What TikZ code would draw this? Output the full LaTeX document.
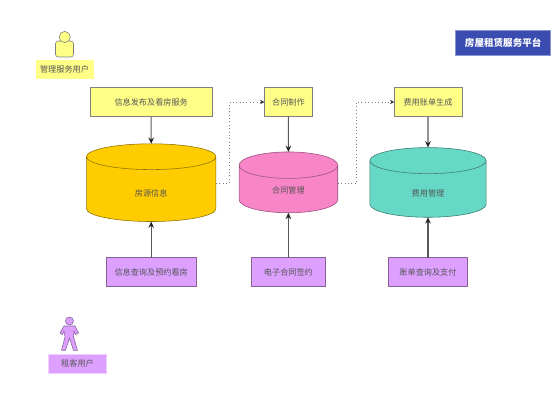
\documentclass[tikz,border=0pt]{standalone}
\usepackage{fontspec}
\setmainfont{Noto Sans CJK SC}
\usepackage{tikz}
\usetikzlibrary{arrows.meta,positioning,shapes.geometric,calc}
\definecolor{rentyellow}{HTML}{FFFF88}
\definecolor{rentpurple}{HTML}{DDA0FF}
\definecolor{rentorange}{HTML}{FFCC00}
\definecolor{rentpink}{HTML}{F985C9}
\definecolor{rentteal}{HTML}{66D9C6}
\definecolor{rentblue}{HTML}{3B4CB0}
\definecolor{rentgray}{HTML}{7F7F7F}
\definecolor{renttext}{HTML}{555555}
\tikzset{
  basefont/.style={font=\fontsize{5.8}{7}\selectfont, text=renttext},
  srvbox/.style={draw=rentgray, fill=rentyellow, basefont, minimum height=0.725cm, inner sep=0pt, outer sep=0pt},
  qrybox/.style={draw=rentpurple!60!black, fill=rentpurple, basefont, minimum height=0.725cm, inner sep=0pt, outer sep=0pt},
  rolebox/.style={basefont, minimum width=1.45cm, minimum height=0.475cm, inner sep=0pt},
  store/.style={cylinder, shape border rotate=90, basefont, inner sep=0pt, outer sep=0pt, cylinder uses custom fill},
  flow/.style={-{Stealth[length=4.5pt,width=4pt,color=black!85]}, draw=black!65, line width=0.75pt},
  link/.style={-{Stealth[length=3pt,width=3pt,color=black!80]}, draw=rentgray, dotted, line width=0.4pt},
}
\begin{document}
\begin{tikzpicture}
  \useasboundingbox (0,0) rectangle (13.925,10.125);

  % Platform title
  \node[draw=rentblue!60, fill=rentblue, font=\fontsize{6.8}{8}\selectfont\bfseries, text=white, minimum width=2.375cm, minimum height=0.6375cm, inner sep=0pt] (title) at (12.58,9.056) {房屋租赁服务平台};

  % Admin user
  \draw[rentgray, fill=rentyellow, line width=0.4pt, rounded corners=2pt] (1.3875,8.7) rectangle (1.8375,9.1);
  \draw[rentgray, fill=rentyellow, line width=0.4pt] (1.6175,9.2) circle (0.14);
  \node[rolebox, fill=rentyellow] (admin) at (1.6125,8.3875) {管理服务用户};

  % Tenant user
  \draw[rentpurple!60!black, fill=rentpurple, line width=0.4pt, line join=round]
    (1.6,1.975) -- (1.5,1.8) -- (1.5625,1.7625) -- (1.6,1.85) -- (1.625,1.7)
    -- (1.5375,1.365) -- (1.6375,1.365) -- (1.7375,1.675) -- (1.8375,1.365) -- (1.9375,1.365)
    -- (1.8375,1.7) -- (1.85,1.85) -- (1.8875,1.7625) -- (1.9625,1.8) -- (1.875,1.975) -- cycle;
  \draw[rentpurple!60!black, fill=rentpurple, line width=0.4pt] (1.7375,2.1) circle (0.1);
  \node[rolebox, fill=rentpurple, draw=rentpurple!50, line width=0.4pt] (tenant) at (1.9375,1.03) {租客用户};

  % Service boxes
  \node[srvbox, minimum width=3.05cm] (publish) at (3.78,7.575) {信息发布及看房服务};
  \node[srvbox, minimum width=1.2cm] (contract) at (7.21,7.575) {合同制作};
  \node[srvbox, minimum width=1.69cm] (billing) at (10.70,7.575) {费用账单生成};

  % Data stores
  \node[store, draw=rentorange!55!black, cylinder body fill=rentorange, cylinder end fill=rentorange, minimum width=3.2375cm, minimum height=1.9425cm, aspect=0.79, text height=0.38cm] (house) at (3.78,5.394) {房源信息};
  \node[store, draw=rentpink!60!black, cylinder body fill=rentpink, cylinder end fill=rentpink, minimum width=2.4675cm, minimum height=1.52cm, aspect=0.81, text height=0.26cm] (manage) at (7.21,5.3975) {合同管理};
  \node[store, draw=rentteal!55!black, cylinder body fill=rentteal, cylinder end fill=rentteal, minimum width=2.905cm, minimum height=1.7425cm, aspect=0.8, text height=0.38cm] (fee) at (10.70,5.398) {费用管理};

  % Tenant query boxes
  \node[qrybox, minimum width=2.24cm] (query) at (3.78,3.325) {信息查询及预约看房};
  \node[qrybox, minimum width=1.845cm] (sign) at (7.21,3.325) {电子合同签约};
  \node[qrybox, minimum width=1.965cm] (pay) at (10.70,3.325) {账单查询及支付};

  % Connectors
  \draw[flow] (publish) -- (house.north);
  \draw[flow] (contract) -- (manage.north);
  \draw[flow] (billing) -- (fee.north);
  \draw[flow] (query) -- (house.south);
  \draw[flow] (sign) -- (manage.south);
  \draw[flow] (pay) -- (fee.south);

  % Dotted links
  \coordinate (turnA) at (5.7325,7.575);
  \coordinate (turnB) at (8.9075,7.575);
  \draw[link] ($(house.east)+(0,0.16)$) -| (turnA) -- (contract.west);
  \draw[link] ($(manage.east)+(0,0.155)$) -| (turnB) -- (billing.west);
\end{tikzpicture}
\end{document}
